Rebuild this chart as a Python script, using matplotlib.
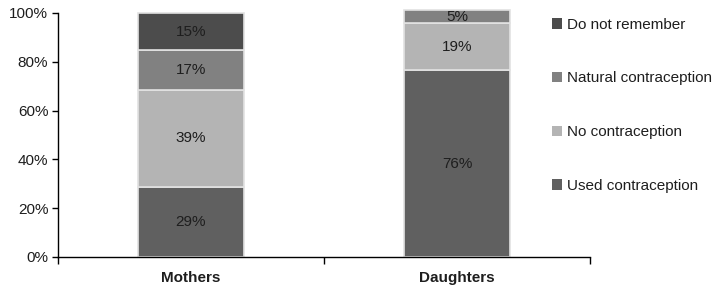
import matplotlib
matplotlib.use("Agg")
import matplotlib.pyplot as plt
from matplotlib.patches import Patch
import numpy as np

plt.rcParams['font.family'] = ['Liberation Sans', 'DejaVu Sans']

categories = ["Mothers", "Daughters"]
series = ["Used contraception", "No contraception", "Natural contraception", "Do not remember"]
values = {
    "Used contraception": [28.8, 76.6],
    "No contraception": [39.6, 19.2],
    "Natural contraception": [16.4, 0.0],
    "Do not remember": [15.2, 5.4],
}
labels = {
    "Used contraception": ["29%", "76%"],
    "No contraception": ["39%", "19%"],
    "Natural contraception": ["17%", ""],
    "Do not remember": ["15%", "5%"],
}
colors = {
    "Used contraception": "#606060",
    "No contraception": "#b4b4b4",
    "Natural contraception": "#818181",
    "Do not remember": "#4c4c4c",
}
# Daughters' top segment is shaded like "Natural contraception" in the reference
seg_colors = {
    "Do not remember": ["#4c4c4c", "#818181"],
}
yticks = [0, 20, 40, 60, 80, 100]

fig = plt.figure(figsize=(7.22, 2.93), dpi=100)
ax = fig.add_axes([58/722, 36/293, 532/722, 244/293])

x = np.arange(len(categories))
bottom = np.zeros(len(categories))
for s in series:
    v = np.array(values[s])
    cols = seg_colors.get(s, [colors[s]] * len(categories))
    bars = ax.bar(x, v, 0.4, bottom=bottom, color=cols, edgecolor="#e2e2e2", linewidth=1.2)
    for b in bars:
        b.set_clip_on(False)
    for i in range(len(categories)):
        if v[i] > 0 and labels[s][i]:
            ax.text(x[i], bottom[i] + v[i] / 2, labels[s][i], ha="center", va="center",
                    fontsize=11, color="#1e1e1e")
    bottom += v

ax.set_xlim(-0.5, 1.5)
ax.set_ylim(0, 100)
ax.set_yticks(yticks)
ax.set_yticklabels([f"{t}%" for t in yticks], fontsize=11, color="#1e1e1e")
ax.set_xticks(x)
ax.set_xticklabels(categories, fontsize=11, fontweight="bold", color="#1e1e1e")
ax.tick_params(axis="x", length=0, pad=10)
ax.set_xticks([-0.5, 0.5, 1.5], minor=True)
ax.tick_params(axis="x", which="minor", length=5, width=1, direction="out")
ax.tick_params(axis="y", length=4, width=1, direction="out", pad=3)
for sp in ["top", "right"]:
    ax.spines[sp].set_visible(False)
ax.spines["left"].set_linewidth(1)
ax.spines["bottom"].set_linewidth(1)

handles = [Patch(facecolor=colors[s], edgecolor="none") for s in series[::-1]]
fig.legend(handles, series[::-1], loc="upper left", bbox_to_anchor=(538/722, 1 - 4/293),
           frameon=False, fontsize=11, labelspacing=2.6, handlelength=0.7,
           handleheight=0.7, handletextpad=0.3, labelcolor="#1e1e1e")

fig.savefig("out.png", dpi=100)
